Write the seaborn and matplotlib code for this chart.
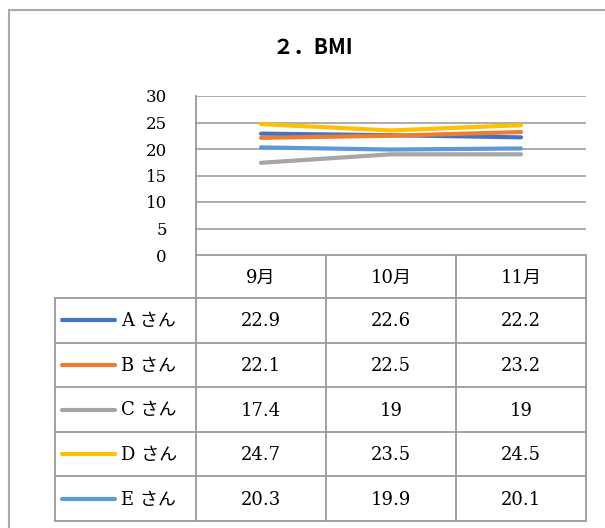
import matplotlib
matplotlib.use("Agg")
import matplotlib.pyplot as plt
import seaborn as sns
import pandas as pd

# --- data -------------------------------------------------------------
months = ["9月", "10月", "11月"]
names = ["A さん", "B さん", "C さん", "D さん", "E さん"]
bmi_a = [22.9, 22.6, 22.2]
bmi_b = [22.1, 22.5, 23.2]
bmi_c = [17.4, 19, 19]
bmi_d = [24.7, 23.5, 24.5]
bmi_e = [20.3, 19.9, 20.1]
series = [bmi_a, bmi_b, bmi_c, bmi_d, bmi_e]
colors = ["#4472C4", "#ED7D31", "#A5A5A5", "#FFC000", "#5B9BD5"]
yticks = [0, 5, 10, 15, 20, 25, 30]
title = "２．BMI"

sns.set_theme(style="white")
serif = ["DejaVu Serif", "Noto Sans CJK JP"]
plt.rcParams["font.family"] = serif
plt.rcParams["text.color"] = "black"
plt.rcParams["ytick.color"] = "black"
plt.rcParams["ytick.labelcolor"] = "black"

W, H = 605, 528
fig = plt.figure(figsize=(W / 100, H / 100), dpi=100)
fig.patch.set_facecolor("white")

grid_c = "#a6a6a6"
line_c = "#9a9a9a"

# overlay in pixel coordinates for frame and data table
ov = fig.add_axes([0, 0, 1, 1])
ov.set_xlim(0, W)
ov.set_ylim(H, 0)
ov.axis("off")

# plot area geometry (pixels)
px_l, px_r, px_t, px_b = 196, 586, 96, 255
ax = fig.add_axes([px_l / W, 1 - px_b / H, (px_r - px_l) / W, (px_b - px_t) / H])
ax.set_facecolor("none")

rows = []
for name, vals in zip(names, series):
    for i, v in enumerate(vals):
        rows.append({"name": name, "pos": i, "bmi": v})
df = pd.DataFrame(rows)

sns.lineplot(data=df, x="pos", y="bmi", hue="name", hue_order=names,
             palette=colors, linewidth=3.0, legend=False, ax=ax,
             solid_capstyle="round", zorder=3)

ax.set_xlim(-0.5, len(months) - 0.5)
ax.set_ylim(0, 30)
ax.set_yticks(yticks)
ax.set_yticklabels([str(t) for t in yticks], fontsize=12, family=serif,
                   color="black")
ax.set_xticks([])
ax.set_xlabel("")
ax.set_ylabel("")
ax.tick_params(axis="y", length=0, pad=21)
for s in ["top", "right", "bottom"]:
    ax.spines[s].set_visible(False)
ax.spines["left"].set_color(line_c)
ax.spines["left"].set_linewidth(1.3)
ax.yaxis.grid(True, color=grid_c, linewidth=1.3)
ax.set_axisbelow(True)

# chart frame
ov.plot([9, 9, W + 5], [H + 5, 10, 10], color="#aaaaaa", lw=1.5,
        solid_joinstyle="miter")

# title
ov.text(313, 47, title, ha="center", va="center", fontsize=15,
        fontweight="bold", color="black",
        family=["Noto Sans CJK JP", "DejaVu Sans"])

# data table
col_w = (px_r - px_l) / len(months)
col_x = [px_l + col_w * i for i in range(len(months) + 1)]
head_t, head_b = px_b, 298
row_h = (521 - head_b) / len(names)
row_y = [head_b + row_h * i for i in range(len(names) + 1)]
leg_l = 55

lw_t = 1.3
# header row
for x in col_x:
    ov.plot([x, x], [head_t, row_y[-1]], color=line_c, lw=lw_t)
ov.plot([px_l, px_r], [head_t, head_t], color=line_c, lw=lw_t)
for i, m in enumerate(months):
    ov.text(col_x[i] + col_w / 2, (head_t + head_b) / 2 + 1, m,
            ha="center", va="center", fontsize=13, color="black",
            family=serif)
# body rows
for y in row_y:
    ov.plot([leg_l, px_r], [y, y], color=line_c, lw=lw_t)
ov.plot([leg_l, leg_l], [row_y[0], row_y[-1]], color=line_c, lw=lw_t)

for r, (name, vals, c) in enumerate(zip(names, series, colors)):
    yc = (row_y[r] + row_y[r + 1]) / 2
    ov.plot([62, 115], [yc, yc], color=c, lw=3.0, solid_capstyle="round")
    ov.text(121, yc + 1, name, ha="left", va="center", fontsize=13,
            color="black", family=serif)
    for i, v in enumerate(vals):
        ov.text(col_x[i] + col_w / 2, yc + 1, f"{v:g}", ha="center",
                va="center", fontsize=13, color="black", family=serif)

fig.savefig("out.png", dpi=100)
